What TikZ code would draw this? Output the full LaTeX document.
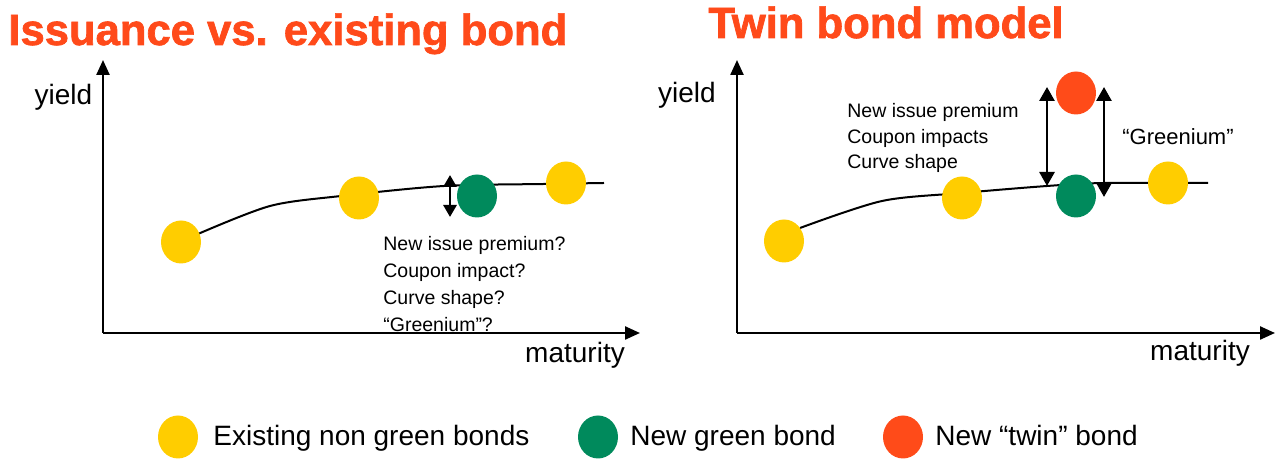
\documentclass[tikz,border=0pt]{standalone}
\usepackage{fontspec}
\setmainfont{Liberation Sans}
\newfontfamily\titlefont{Liberation Sans}[BoldFeatures={FakeBold=1.6}]
\usetikzlibrary{arrows.meta,shapes.geometric}
\definecolor{bondyellow}{HTML}{FFCD00}
\definecolor{bondgreen}{HTML}{008A5C}
\definecolor{bondred}{HTML}{FF4B19}
\definecolor{titlered}{HTML}{FF4A1A}
\tikzset{
  bond/.style={ellipse,minimum width=20pt,minimum height=21.5pt,inner sep=0pt},
  axis/.style={line width=1.2pt,-{Triangle[width=6.5pt,length=7.5pt]}},
  gap/.style={line width=1.4pt,{Triangle[width=7.5pt,length=7pt]}-{Triangle[width=7.5pt,length=7pt]}},
  note/.style={font=\fontsize{9.75}{13.5}\selectfont,align=left,inner sep=0pt,anchor=west},
  axlabel/.style={font=\fontsize{14}{16}\selectfont,inner sep=0pt},
  keylabel/.style={font=\fontsize{14}{16}\selectfont,inner sep=0pt,anchor=base west},
  title/.style={font=\fontsize{21.8}{24}\titlefont\bfseries,text=titlered,inner sep=0pt,anchor=base west},
}

\begin{document}
\begin{tikzpicture}[x=5pt,y=5pt]
\useasboundingbox (0,0) rectangle (127.5,45.9);
\node[title] (t1) at (0.8,41.4) {Issuance vs. existing bond};
\node[title] (t2) at (70.8,42.1) {Twin bond model};

% left panel
\coordinate (o1) at (10.3,12.6);
\coordinate (yt1) at (10.3,39.9);
\coordinate (xt1) at (64.0,12.6);
\draw[axis] (o1)--(yt1);
\draw[axis] (o1)--(xt1);
\node[axlabel] (yl1) at (6.35,36.2) {yield};
\node[axlabel] (ml1) at (57.5,10.4) {maturity};
\draw[line width=1pt] plot[smooth,tension=0.5] coordinates
  {(19.8,22.5) (27.0,25.3) (34.1,26.3) (44.4,27.3) (54.4,27.5) (60.4,27.6)};
\node[bond,fill=bondyellow] (a1) at (18.1,21.7) {};
\node[bond,fill=bondyellow] (a2) at (35.9,26.1) {};
\node[bond,fill=bondgreen] (a3) at (47.7,26.3) {};
\node[bond,fill=bondyellow] (a4) at (56.6,27.6) {};
\coordinate (d1) at (45.0,24.2);
\coordinate (u1) at (45.0,28.4);
\draw[line width=1.4pt,{Triangle[width=6.5pt,length=6pt]}-{Triangle[width=6.5pt,length=6pt]}] (d1)--(u1);
\node[note] (n1) at (38.3,17.5) {New issue premium?\\Coupon impact?\\Curve shape?\\“Greenium”?};

% right panel
\coordinate (o2) at (73.7,12.6);
\coordinate (yt2) at (73.7,39.9);
\coordinate (xt2) at (127.5,12.6);
\draw[axis] (o2)--(yt2);
\draw[axis] (o2)--(xt2);
\node[axlabel] (yl2) at (68.7,36.4) {yield};
\node[axlabel] (ml2) at (120.0,10.6) {maturity};
\draw[line width=1pt] plot[smooth,tension=0.5] coordinates
  {(80,23.1) (88.2,25.8) (96.2,26.6) (104.7,27.3) (110.4,27.6) (120.8,27.6)};
\node[bond,fill=bondyellow] (b1) at (78.4,21.8) {};
\node[bond,fill=bondyellow] (b2) at (96.2,26.1) {};
\node[bond,fill=bondgreen] (b3) at (107.6,26.3) {};
\node[bond,fill=bondyellow] (b4) at (116.8,27.6) {};
\node[bond,fill=bondred] (b5) at (107.6,36.6) {};
\coordinate (p1) at (104.7,27.3);
\coordinate (q1) at (104.7,37.2);
\coordinate (p2) at (110.4,26.2);
\coordinate (q2) at (110.4,37.2);
\draw[gap] (p1)--(q1);
\draw[gap] (p2)--(q2);
\node[note,font=\fontsize{9.75}{12.75}\selectfont] (n2) at (84.7,32.1) {New issue premium\\Coupon impacts\\Curve shape};
\node[note,font=\fontsize{11}{13}\selectfont] (gr) at (112.2,32.2) {“Greenium”};

% legend
\node[bond,fill=bondyellow] (k1) at (17.8,2.2) {};
\node[bond,fill=bondgreen] (k2) at (59.8,2.2) {};
\node[bond,fill=bondred] (k3) at (90.3,2.2) {};
\node[keylabel] (l1) at (21.3,1.3) {Existing non green bonds};
\node[keylabel] (l2) at (63.0,1.3) {New green bond};
\node[keylabel] (l3) at (93.5,1.3) {New “twin” bond};
\end{tikzpicture}
\end{document}
